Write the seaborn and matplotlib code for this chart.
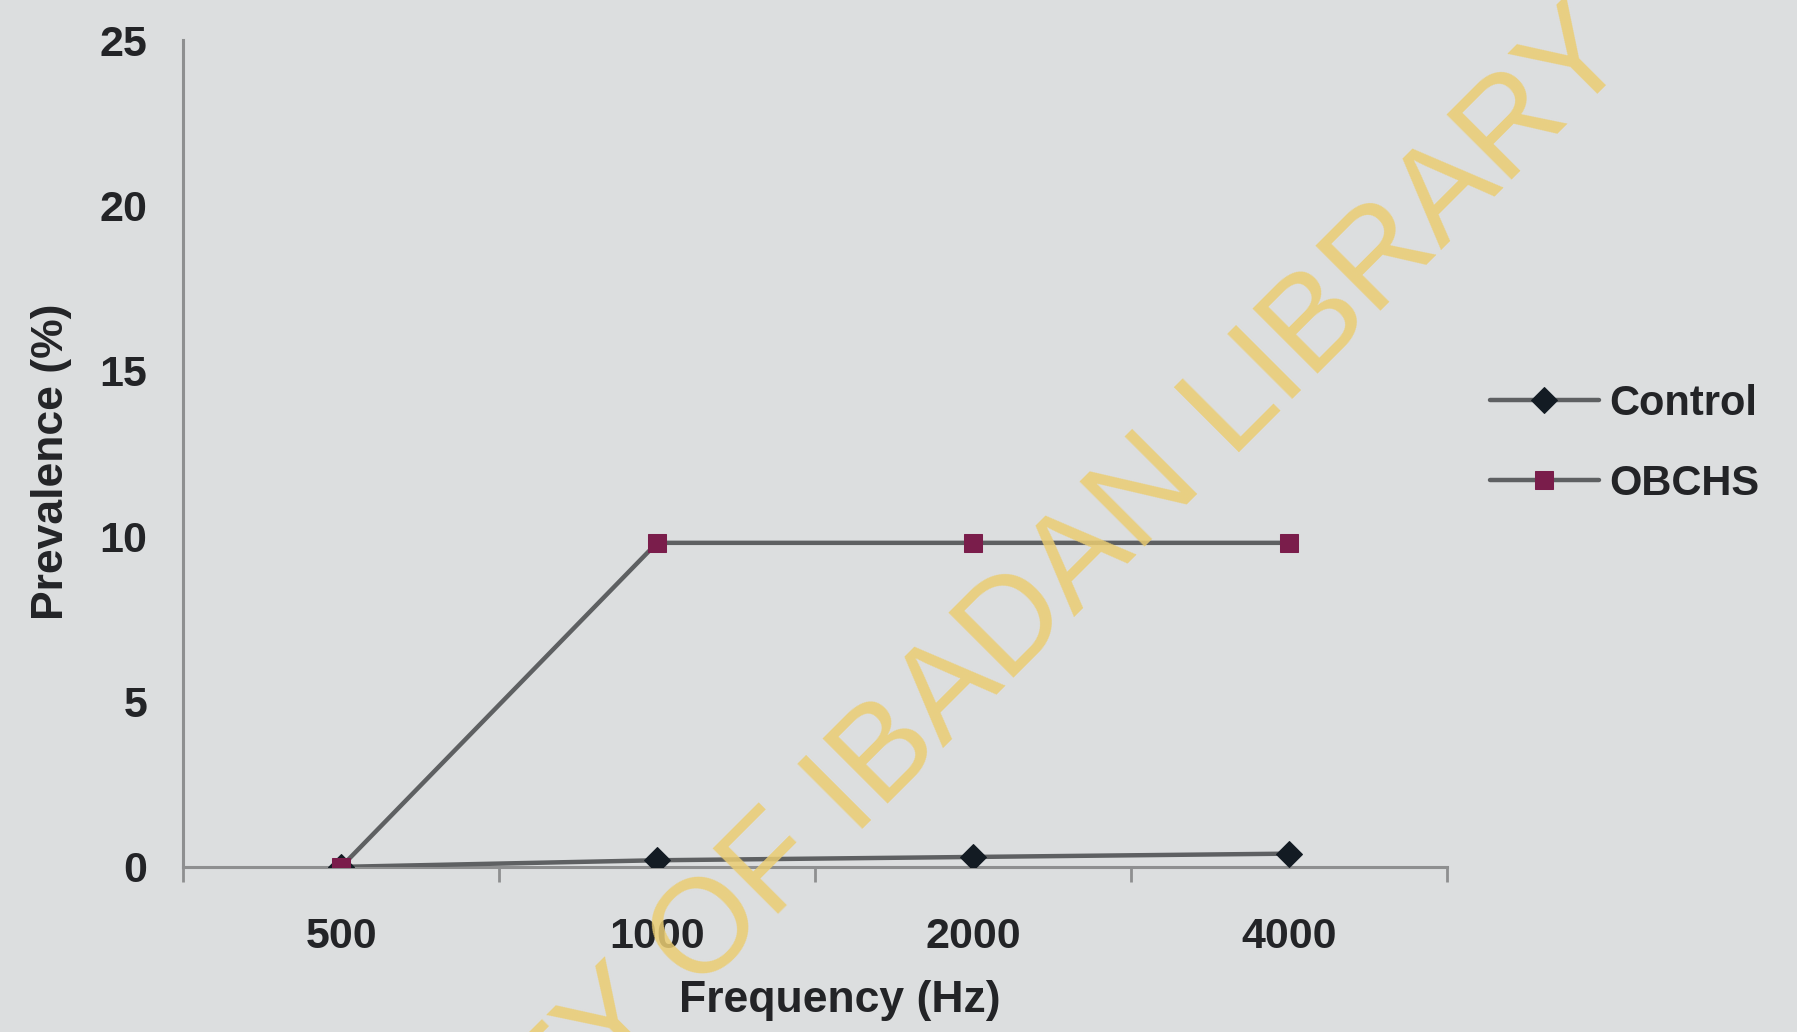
import matplotlib
matplotlib.use("Agg")
import matplotlib.pyplot as plt
import seaborn as sns
import pandas as pd

# Hearing-loss prevalence by test frequency
frequencies = ["500", "1000", "2000", "4000"]
control = [0.0, 0.2, 0.3, 0.4]
obchs = [0.0, 9.8, 9.8, 9.8]
y_ticks = [0, 5, 10, 15, 20, 25]

bg = "#dcdedf"
axis_grey = "#8e8f90"
line_grey = "#5e6062"
control_col = "#131b23"
obchs_col = "#7a1d4b"
text_col = "#232427"
mark_col = "#ebcd72"

sns.set_theme(style="white")
plt.rcParams["font.family"] = ["Liberation Sans", "DejaVu Sans"]
plt.rcParams["font.weight"] = "bold"

fig = plt.figure(figsize=(17.97, 10.32), dpi=100, facecolor=bg)
ax = fig.add_axes([0.102, 0.16, 0.703, 0.801])
ax.set_facecolor(bg)

df = pd.DataFrame({"Frequency": frequencies, "Control": control, "OBCHS": obchs})

sns.lineplot(data=df, x="Frequency", y="Control", ax=ax, sort=False,
             color=line_grey, linewidth=3.2, marker="D", markersize=13,
             markerfacecolor=control_col, markeredgecolor=control_col,
             label="Control", zorder=3)
sns.lineplot(data=df, x="Frequency", y="OBCHS", ax=ax, sort=False,
             color=line_grey, linewidth=3.2, marker="s", markersize=13,
             markerfacecolor=obchs_col, markeredgecolor=obchs_col,
             label="OBCHS", zorder=3)

ax.set_xlim(-0.5, 3.5)
ax.set_ylim(0, 25)
ax.set_yticks(y_ticks)
ax.set_xticks(range(len(frequencies)))
ax.set_xticklabels(frequencies)
ax.set_xticks([i - 0.5 for i in range(len(frequencies) + 1)], minor=True)

for side in ("top", "right"):
    ax.spines[side].set_visible(False)
for side in ("left", "bottom"):
    ax.spines[side].set_color(axis_grey)
    ax.spines[side].set_linewidth(2.2)

ax.tick_params(axis="y", which="major", direction="out", length=10, width=2,
               color=axis_grey, pad=16, labelsize=31, labelcolor=text_col)
ax.tick_params(axis="x", which="major", length=0, pad=36,
               labelsize=31, labelcolor=text_col)
ax.tick_params(axis="x", which="minor", direction="out", length=11, width=2,
               color=axis_grey, bottom=True)
for lab in ax.get_xticklabels() + ax.get_yticklabels():
    lab.set_fontweight("bold")

ax.set_xlabel("Frequency (Hz)", fontsize=32, fontweight="bold", color=text_col)
ax.set_ylabel("Prevalence (%)", fontsize=32, fontweight="bold", color=text_col)
ax.xaxis.set_label_coords(0.52, -0.137)
ax.yaxis.set_label_coords(-0.088, 0.49)

leg = ax.legend(loc="center left", bbox_to_anchor=(0.82, 0.57),
                bbox_transform=fig.transFigure, frameon=False,
                fontsize=30, handlelength=2.6, handletextpad=0.25,
                labelspacing=0.95, borderaxespad=0)
for t in leg.get_texts():
    t.set_fontweight("bold")
    t.set_color(text_col)

# Library watermark across the plot
fig.text(0.92, 0.925, "TY OF IBADAN LIBRARY", rotation=45,
         rotation_mode="anchor", ha="right", va="bottom",
         fontsize=96, fontweight="normal", color=mark_col, alpha=0.85,
         family=["Liberation Sans", "DejaVu Sans"], zorder=10)

fig.savefig("out.png", dpi=100, facecolor=bg)
